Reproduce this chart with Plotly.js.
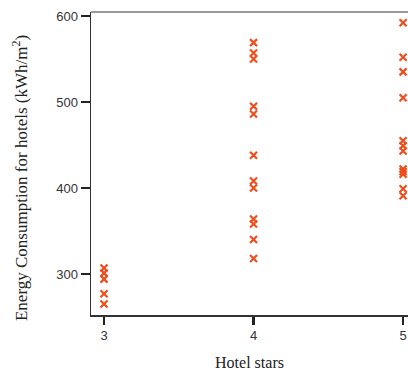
<!DOCTYPE html>
<html>
<head>
<meta charset="utf-8">
<script src="https://cdn.plot.ly/plotly-3.0.1.min.js"></script>
<style>html,body{margin:0;padding:0;background:#fff;}#chart{width:408px;height:372px;}</style>
</head>
<body>
<div id="chart"></div>
<script>
const stars3 = [307, 301, 294, 277, 265];
const stars4 = [569, 557, 550, 495, 486, 438, 408, 400, 364, 358, 340, 318];
const stars5 = [592, 552, 535, 505, 455, 449, 443, 422, 419, 416, 399, 391];
const xTicks = [3, 4, 5];
const yTicks = [300, 400, 500, 600];
const yTitle = 'Energy Consumption for hotels (kWh/m<sup>2</sup>)';

const xs = [], ys = [];
stars3.forEach(v => { xs.push(3); ys.push(v); });
stars4.forEach(v => { xs.push(4); ys.push(v); });
stars5.forEach(v => { xs.push(5); ys.push(v); });

const trace = {
  x: xs, y: ys, type: 'scatter', mode: 'markers',
  marker: {symbol: 'x-thin-open', size: 7, line: {width: 2.2, color: '#ee4e1c'}, color: '#ee4e1c'},
  hoverinfo: 'none', cliponaxis: false
};

const layout = {
  width: 408, height: 372,
  margin: {l: 91, r: 0, t: 12, b: 57},
  paper_bgcolor: '#fff', plot_bgcolor: '#fff',
  showlegend: false,
  xaxis: {
    range: [2.913, 5.033], tickvals: xTicks, ticktext: xTicks.map(String),
    showgrid: false, zeroline: false, showline: true, linecolor: '#333', linewidth: 1.5,
    ticks: 'outside', ticklen: 8, tickwidth: 2.5, tickcolor: '#222',
    tickfont: {family: 'Liberation Sans, Arial, sans-serif', size: 13, color: '#333'},
    title: {text: 'Hotel stars', font: {family: 'Liberation Serif, Times New Roman, serif', size: 16, color: '#222'}, standoff: 14}
  },
  yaxis: {
    range: [252.3, 604.6], tickvals: yTicks, ticktext: yTicks.map(String),
    showgrid: false, zeroline: false, showline: true, linecolor: '#333', linewidth: 1.5,
    ticks: 'outside', ticklen: 9, tickwidth: 2.5, tickcolor: '#222',
    tickfont: {family: 'Liberation Sans, Arial, sans-serif', size: 13, color: '#333'}
  },
  annotations: [{
    text: yTitle, textangle: -90, xref: 'paper', yref: 'paper', x: 0, y: 0.452,
    xshift: -71, xanchor: 'center', yanchor: 'middle', showarrow: false,
    font: {family: 'Liberation Serif, Times New Roman, serif', size: 17, color: '#222'}
  }],
  shapes: [{type: 'line', xref: 'paper', yref: 'paper', x0: 0, x1: 1, y0: 1, y1: 1, line: {color: '#777', width: 1.5}}]
};

Plotly.newPlot('chart', [trace], layout, {displayModeBar: false, staticPlot: true});
</script>
</body>
</html>
